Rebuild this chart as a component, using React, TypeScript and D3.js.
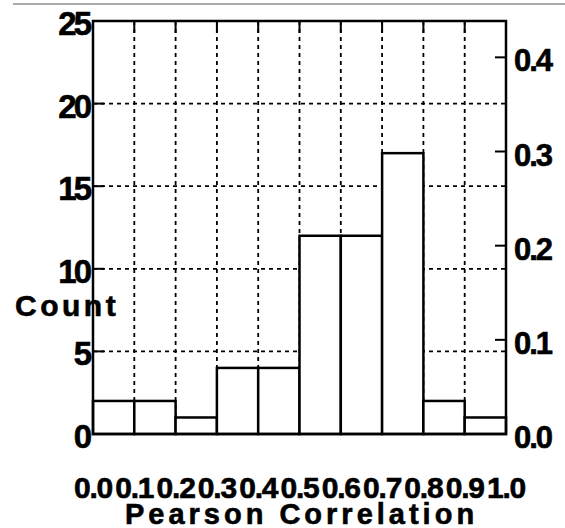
import * as d3 from 'd3';

const W = 565, H = 528;
const binEdges = [0, 0.1, 0.2, 0.3, 0.4, 0.5, 0.6, 0.7, 0.8, 0.9, 1.0];
const counts = [2, 2, 1, 4, 4, 12, 12, 17, 2, 1];
const countTicks = [0, 5, 10, 15, 20, 25];
const fracTicks = [0.0, 0.1, 0.2, 0.3, 0.4];
const xTickLabels = ['0.0', '0.1', '0.2', '0.3', '0.4', '0.5', '0.6', '0.7', '0.8', '0.9', '1.0'];

const M = { left: 93, right: 506, top: 21, bottom: 434 };
const FONT = '"Liberation Sans", Arial, Helvetica, sans-serif';

export default function App() {
  const total = d3.sum(counts);
  const x = d3.scaleLinear().domain([0, 1]).range([M.left, M.right]);
  const y = d3.scaleLinear().domain([0, 25]).range([M.bottom, M.top]);
  const yr = d3.scaleLinear().domain([0, 25 / total]).range([M.bottom, M.top]);

  const gridX = binEdges.slice(1, -1);
  const gridY = countTicks.slice(1, -1);

  return (
    <svg width={W} height={H} style={{ position: 'absolute', left: 0, top: 0 }}
      fontFamily={FONT} fontWeight="bold">
      <rect width={W} height={H} fill="#fff" />
      {/* thin grey rule at the top */}
      <line x1={13} x2={W} y1={4} y2={4} stroke="#8c8c8c" strokeWidth={1.5} />

      {/* dashed grid */}
      {gridX.map((v) => (
        <line key={'gx' + v} x1={x(v)} x2={x(v)} y1={M.top} y2={M.bottom}
          stroke="#000" strokeWidth={1.8} strokeDasharray="4,4" />
      ))}
      {gridY.map((v) => (
        <line key={'gy' + v} x1={M.left} x2={M.right} y1={y(v)} y2={y(v)}
          stroke="#000" strokeWidth={1.8} strokeDasharray="4,4" />
      ))}

      {/* inward ticks */}
      {gridX.map((v) => (
        <line key={'tt' + v} x1={x(v)} x2={x(v)} y1={M.top} y2={M.top + 12}
          stroke="#000" strokeWidth={2} />
      ))}
      {gridY.map((v) => (
        <line key={'tl' + v} x1={M.left} x2={M.left + 11} y1={y(v)} y2={y(v)}
          stroke="#000" strokeWidth={2} />
      ))}
      {fracTicks.slice(1).map((v) => (
        <line key={'tr' + v} x1={M.right - 11} x2={M.right} y1={yr(v)} y2={yr(v)}
          stroke="#000" strokeWidth={2} />
      ))}

      {/* bars */}
      {counts.map((c, i) => (
        <rect key={'b' + i} x={x(binEdges[i])} y={y(c)}
          width={x(binEdges[i + 1]) - x(binEdges[i])} height={y(0) - y(c)}
          fill="#fff" stroke="#000" strokeWidth={2.5} />
      ))}

      {/* frame */}
      <rect x={M.left} y={M.top} width={M.right - M.left} height={M.bottom - M.top}
        fill="none" stroke="#000" strokeWidth={2.5} />

      <g stroke="#000" strokeWidth={0.6}>
        {/* left tick labels */}
        {countTicks.map((v) => (
          <text key={'ly' + v} x={89} y={y(v) + 14} textAnchor="end" fontSize={33}
            letterSpacing={-3}>{v}</text>
        ))}
        {/* right tick labels */}
        {fracTicks.map((v) => (
          <text key={'ry' + v} x={514} y={yr(v) + 14} textAnchor="start" fontSize={31}
            letterSpacing={-2}>{v.toFixed(1)}</text>
        ))}
        {/* x tick labels */}
        {xTickLabels.map((t, i) => (
          <text key={'xl' + i} x={x(i / 10)} y={498} textAnchor="middle" fontSize={30}
            letterSpacing={-1.2}>{t}</text>
        ))}

        <text x={15} y={316} fontSize={30} letterSpacing={3.5}>Count</text>
        <text x={(M.left + M.right) / 2 + 2} y={524} textAnchor="middle" fontSize={29}
          letterSpacing={4}>Pearson Correlation</text>
      </g>
    </svg>
  );
}
